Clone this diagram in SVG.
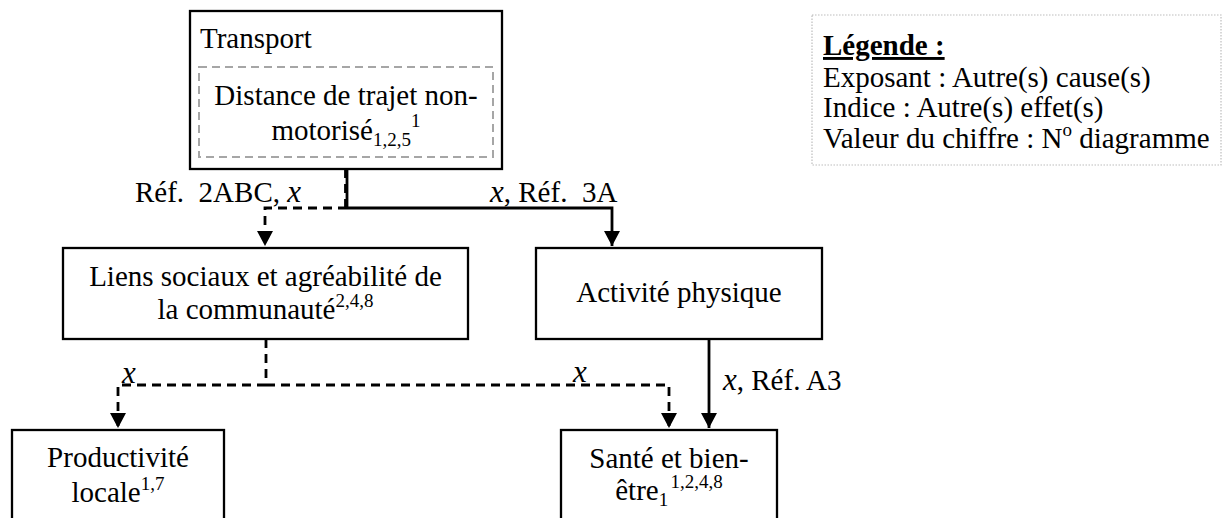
<svg xmlns="http://www.w3.org/2000/svg" width="1222" height="518" viewBox="0 0 1222 518">
  <style>
    .box { fill: #ffffff; stroke: #000000; stroke-width: 2.3; }
    .inner { fill: none; stroke: #a6a6a6; stroke-width: 2; stroke-dasharray: 8 5; }
    .legend-box { fill: none; stroke: #bdbdbd; stroke-width: 1.2; stroke-dasharray: 1.5 1.5; }
    .t { font-family: "Liberation Serif", "Times New Roman", serif; font-size: 29px; fill: #000000; }
    .c { text-anchor: middle; }
    .s { font-size: 19px; }
    .x { font-family: "Liberation Serif", "Times New Roman", serif; font-style: italic; font-size: 31px; }
    .solid { fill: none; stroke: #000000; stroke-width: 2.8; }
    .dash { fill: none; stroke: #000000; stroke-width: 2.8; stroke-dasharray: 9 6; }
  </style>
  <defs>
    <marker id="arrow" markerWidth="16" markerHeight="16" refX="15" refY="8" orient="auto" markerUnits="userSpaceOnUse">
      <path d="M0,0 L15,8 L0,16 Z" fill="#000000"/>
    </marker>
  </defs>

  <rect width="1222" height="518" fill="#ffffff"/>

  <!-- connectors -->
  <g id="connectors">
    <!-- Transport -> Liens sociaux (dashed) -->
    <line class="solid" x1="347" y1="169" x2="347" y2="208"/>
    <line class="dash" x1="345.5" y1="169" x2="345.5" y2="208"/>
    <path class="dash" d="M347,208 H265 V246" marker-end="url(#arrow)"/>
    <!-- Transport -> Activité physique (solid) -->
    <path class="solid" d="M347,208 H612 V246" marker-end="url(#arrow)"/>
    <!-- Liens sociaux -> Productivité / Santé (dashed) -->
    <path class="dash" d="M266,339 V385"/>
    <path class="dash" d="M266,385 H118 V428" marker-end="url(#arrow)"/>
    <path class="dash" d="M266,385 H669 V428" marker-end="url(#arrow)"/>
    <!-- Activité physique -> Santé (solid) -->
    <path class="solid" d="M709,339 V428" marker-end="url(#arrow)"/>

    <!-- connector labels -->
    <text class="t" x="135" y="202">Réf.&#160; 2ABC, <tspan class="x">x</tspan></text>
    <text class="t" x="490" y="202"><tspan class="x">x</tspan>, Réf.&#160; 3A</text>
    <text class="x" x="122" y="383">x</text>
    <text class="x" x="573" y="382">x</text>
    <text class="t" x="723" y="390"><tspan class="x">x</tspan>, Réf. A3</text>
  </g>

  <!-- Transport with its non-motorised travel distance -->
  <g id="transport">
    <rect class="box" x="190" y="11" width="312" height="158"/>
    <text class="t" x="200" y="48">Transport</text>
    <rect class="inner" x="199" y="67" width="294" height="90"/>
    <text class="t c" x="346" y="105">Distance de trajet non-</text>
    <text class="t c" x="346" y="140">motorisé<tspan class="s" dy="6">1,2,5</tspan><tspan class="s" dy="-19">1</tspan></text>
  </g>

  <g id="liens-sociaux">
    <rect class="box" x="63" y="248" width="405" height="91"/>
    <text class="t c" x="265.5" y="286">Liens sociaux et agréabilité de</text>
    <text class="t c" x="265.5" y="319">la communauté<tspan class="s" dy="-12">2,4,8</tspan></text>
  </g>

  <g id="activite-physique">
    <rect class="box" x="536" y="248" width="286" height="91"/>
    <text class="t c" x="679" y="302">Activité physique</text>
  </g>

  <g id="productivite">
    <rect class="box" x="12" y="430" width="212" height="100"/>
    <text class="t c" x="118" y="467">Productivité</text>
    <text class="t c" x="118" y="502">locale<tspan class="s" dy="-12">1,7</tspan></text>
  </g>

  <g id="sante">
    <rect class="box" x="561" y="430" width="216" height="100"/>
    <text class="t c" x="669" y="468">Santé et bien-</text>
    <text class="t c" x="669" y="500">être<tspan class="s" dy="6">1</tspan><tspan class="s" dx="3" dy="-18">1,2,4,8</tspan></text>
  </g>

  <g id="legende">
    <rect class="legend-box" x="812" y="15" width="409" height="150"/>
    <text class="t" x="823" y="55" font-weight="bold" text-decoration="underline">Légende :</text>
    <text class="t" x="823" y="87">Exposant : Autre(s) cause(s)</text>
    <text class="t" x="823" y="117">Indice : Autre(s) effet(s)</text>
    <text class="t" x="823" y="148">Valeur du chiffre : N<tspan class="s" dy="-12">o</tspan><tspan dy="12"> diagramme</tspan></text>
  </g>
</svg>
